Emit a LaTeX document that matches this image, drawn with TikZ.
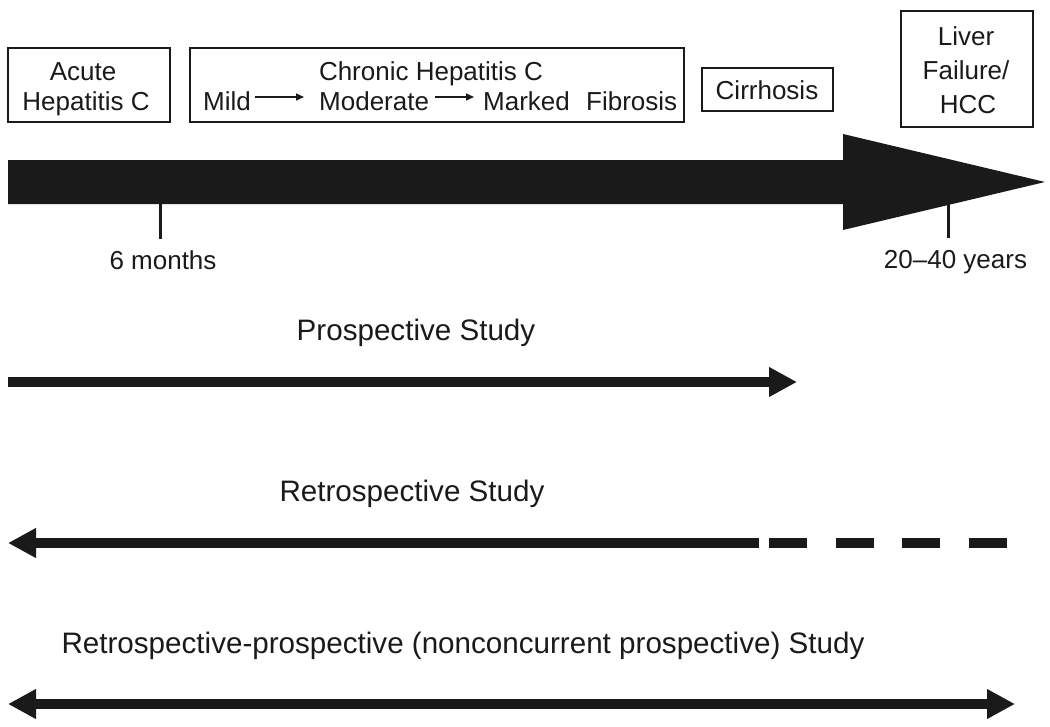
\documentclass[tikz,border=0pt]{standalone}
\usepackage{fontspec}
\setmainfont{Liberation Sans}
\usetikzlibrary{arrows.meta}
\definecolor{ink}{HTML}{1A1A1A}
\begin{document}
\begin{tikzpicture}[x=1pt,y=-1pt,
  box/.style={draw=ink, line width=1.6pt, inner sep=0pt},
  boxtxt/.style={font=\fontsize{26}{30}\selectfont, inner sep=0pt, text=ink},
  studytxt/.style={font=\fontsize{29.6}{34}\selectfont, inner sep=0pt, text=ink},
  studyline/.style={draw=ink, line width=9.5pt},
  bigtip/.tip={Triangle[length=28pt,width=28pt]},
  smallarrow/.style={draw=ink, line width=1.5pt, -{Triangle[length=8pt,width=7pt]}},
  ticks/.style={draw=ink, line width=3pt}]
\useasboundingbox (0,0) rectangle (1050,726);

% boxes
\node[box, minimum width=162pt, minimum height=74pt] (acute) at (89,85) {};
\node[box, minimum width=494pt, minimum height=74pt] (chronic) at (437,85) {};
\node[box, minimum width=131pt, minimum height=43pt] (cirr) at (767.5,89.5) {};
\node[box, minimum width=132pt, minimum height=116pt] (liver) at (967,69) {};

% box texts
\node[boxtxt, anchor=base] (acute1) at (83,80) {Acute};
\node[boxtxt, anchor=base] (acute2) at (86,110) {Hepatitis C};
\node[boxtxt, anchor=base] (chron1) at (431,80) {Chronic Hepatitis C};
\node[boxtxt, anchor=base west] (mild) at (203,110) {Mild};
\node[boxtxt, anchor=base west] (moderate) at (319,110) {Moderate};
\node[boxtxt, anchor=base west] (marked) at (483,110) {Marked};
\node[boxtxt, anchor=base west] (fibrosis) at (586,110) {Fibrosis};
\draw[smallarrow] ([shift={(4,-13)}]mild.base east) -- ([shift={(-15,-13)}]moderate.base west);
\draw[smallarrow] ([shift={(6,-13)}]moderate.base east) -- ([shift={(-9,-13)}]marked.base west);
\node[boxtxt, anchor=base] (cirrtxt) at (767,99) {Cirrhosis};
\node[boxtxt, anchor=base] (liver1) at (966,45) {Liver};
\node[boxtxt, anchor=base] (liver2) at (966,79) {Failure/};
\node[boxtxt, anchor=base] (liver3) at (968,113) {HCC};

% big timeline arrow
\fill[ink] (8,160) -- (843,160) -- (843,134) -- (1045,182) -- (843,230)
  -- (843,204) -- (8,204) -- cycle;

% ticks and labels
\node[boxtxt, anchor=base] (six) at (163,269) {6 months};
\node[boxtxt, anchor=base] (years) at (955.5,268) {20--40 years};
\coordinate (t1) at (160,203);
\coordinate (t2) at (948,203);
\coordinate (t1e) at (160,239);
\coordinate (t2e) at (948,238);
\draw[ticks] (t1) -- (t1e);
\draw[ticks] (t2) -- (t2e);

% prospective
\node[studytxt, anchor=base] (pros) at (416,340) {Prospective Study};
\coordinate (p0) at (8,382);
\coordinate (p1) at (797,382);
\draw[studyline, -bigtip] (p0) -- (p1);

% retrospective
\node[studytxt, anchor=base] (retro) at (412,501) {Retrospective Study};
\coordinate (r0) at (8,543);
\coordinate (r1) at (759,543);
\coordinate (r2) at (769,543);
\coordinate (r3) at (1007,543);
\draw[studyline, -bigtip] (r1) -- (r0);
\draw[studyline, dash pattern=on 38pt off 28.5pt] (r2) -- (r3);

% retrospective-prospective
\node[studytxt, anchor=base] (rp) at (463,653) {Retrospective-prospective (nonconcurrent prospective) Study};
\coordinate (b0) at (8,704);
\coordinate (b1) at (1015,704);
\draw[studyline, bigtip-bigtip] (b0) -- (b1);
\end{tikzpicture}
\end{document}
